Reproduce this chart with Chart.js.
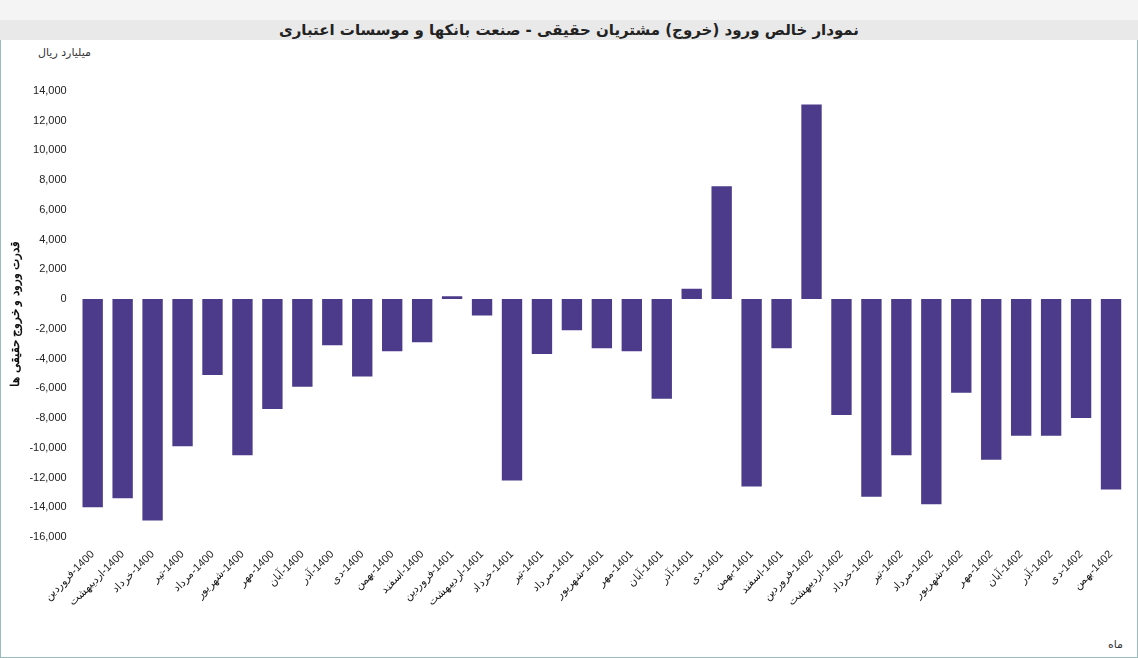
<!DOCTYPE html>
<html><head><meta charset="utf-8">
<script src="https://cdn.jsdelivr.net/npm/chart.js@4/dist/chart.umd.min.js"></script>
<style>
body{margin:0;width:1138px;height:658px;background:#fff;font-family:Tahoma,"DejaVu Sans",sans-serif;overflow:hidden}
#frame{position:absolute;left:0;top:0;width:1136px;height:656px;border:1px solid #9bb;}
#top{position:absolute;left:0;top:0;width:1138px;height:20px;background:#f4f4f4;border-bottom:1px solid #ddd}
#title{position:absolute;left:0;top:20px;width:1138px;height:20px;background:#e9e9e9;text-align:center;font-size:15px;font-weight:bold;line-height:20px;color:#222}
#unit{position:absolute;left:38px;top:46px;font-size:11px;color:#333}
#mah{position:absolute;left:1108px;top:638px;font-size:11px;color:#333}
#wrap{position:absolute;left:0;top:60px;width:1138px;height:552px}
</style></head><body>
<div id="frame"></div><div id="top"></div>
<div id="title">نمودار خالص ورود (خروج) مشتریان حقیقی - صنعت بانکها و موسسات اعتباری</div>
<div id="unit">میلیارد ریال</div>
<div id="mah">ماه</div>
<div id="wrap"><canvas id="chart"></canvas></div>
<script>
var years = ["1400","1400","1400","1400","1400","1400","1400","1400","1400","1400","1400","1400",
  "1401","1401","1401","1401","1401","1401","1401","1401","1401","1401","1401","1401",
  "1402","1402","1402","1402","1402","1402","1402","1402","1402","1402","1402"]
var months = ["فروردین","اردیبهشت","خرداد","تیر","مرداد","شهریور","مهر","آبان","آذر","دی","بهمن","اسفند"]
var labels = years.map((y, i) => months[i % 12] + "\u200E-" + y)
var values = [-14000,-13400,-14900,-9900,-5100,-10500,-7400,-5900,-3100,-5200,-3500,-2900,
  200,-1100,-12200,-3700,-2100,-3300,-3500,-6700,700,7600,-12600,-3300,
  13100,-7800,-13300,-10500,-13800,-6300,-10800,-9200,-9200,-8000,-12800]

new Chart("chart", {
    type: "bar",
    data: {labels: labels, datasets: [{data: values, backgroundColor: "#4b3b8a", barPercentage: 0.68, categoryPercentage: 1}]},
    options: {
        responsive: true, maintainAspectRatio: false, animation: false,
        layout: {padding: {left: 4, right: 12, top: 31}},
        plugins: {legend: {display: false}, tooltip: {enabled: false}},
        scales: {
            y: {min: -16000, max: 14000,
                ticks: {stepSize: 2000, color: "#222", font: {size: 11}},
                grid: {display: false}, border: {color: "#fff"},
                title: {display: true, text: "قدرت ورود و خروج حقیقی ها", color: "#111", font: {size: 12, weight: "bold"}}},
            x: {grid: {display: false}, border: {display: false},
                ticks: {color: "#222", font: {size: 11}, maxRotation: 45, minRotation: 45, autoSkip: false}}
        }
    }
})
</script>
</body></html>
